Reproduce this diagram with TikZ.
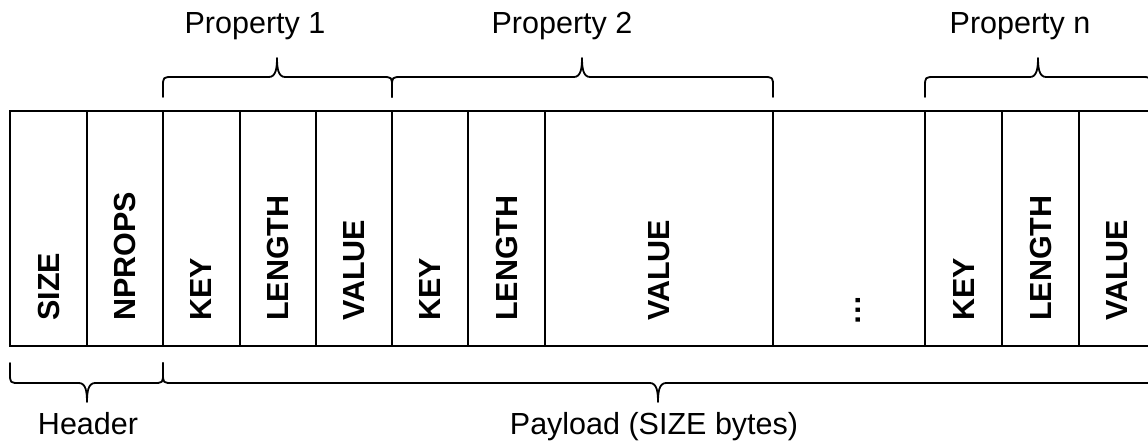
\documentclass[tikz,border=0pt]{standalone}
\usepackage{fontspec}
\setmainfont{Liberation Sans}

% curly brace: left x, right x, tip x, end y, bar y, tip y
\newcommand{\drawbrace}[6]{%
  \draw[bracestroke] (#1,#4) -- (#1,{(#4+#5)/2}) .. controls (#1,#5) .. (#1+10,#5)
    -- (#3-8,#5) .. controls (#3-1,#5) and (#3,{(#5+#6)/2}) .. (#3,#6)
    .. controls (#3,{(#5+#6)/2}) and (#3+1,#5) .. (#3+8,#5)
    -- (#2-10,#5) .. controls (#2,#5) .. (#2,{(#4+#5)/2}) -- (#2,#4);
}

\tikzset{
  cell/.style={draw, line width=2pt, inner sep=0pt, minimum height=235pt},
  field/.style={font=\bfseries\fontsize{30.5}{36}\selectfont, rotate=90,
                anchor=west, inner sep=0pt},
  caption/.style={font=\fontsize{30.5}{36}\selectfont, anchor=base, inner sep=0pt},
  bracestroke/.style={line width=1.8pt, line join=round, line cap=round}
}

\begin{document}
\begin{tikzpicture}[x=1pt, y=-1pt]
  \useasboundingbox (0,0) rectangle (1148,445);
  \clip (0,0) rectangle (1148,445);

  % record fields
  \node[cell, minimum width=77pt]  (size)   at (48.5,228.5)  {};
  \node[cell, minimum width=76pt]  (nprops) at (125,228.5)   {};
  \node[cell, minimum width=77pt]  (key1)   at (201.5,228.5) {};
  \node[cell, minimum width=76pt]  (len1)   at (278,228.5)   {};
  \node[cell, minimum width=76pt]  (val1)   at (354,228.5)   {};
  \node[cell, minimum width=76pt]  (key2)   at (430,228.5)   {};
  \node[cell, minimum width=77pt]  (len2)   at (506.5,228.5) {};
  \node[cell, minimum width=228pt] (val2)   at (659,228.5)   {};
  \node[cell, minimum width=152pt] (gap)    at (849,228.5)   {};
  \node[cell, minimum width=77pt]  (keyn)   at (963.5,228.5) {};
  \node[cell, minimum width=77pt]  (lenn)   at (1040.5,228.5){};
  \node[cell, minimum width=76pt]  (valn)   at (1117,228.5)  {};

  % field names, written bottom to top
  \node[field] (tsize)   at (48.5,321)  {SIZE};
  \node[field] (tnprops) at (125,321)   {NPROPS};
  \node[field] (tkey1)   at (201.5,321) {KEY};
  \node[field] (tlen1)   at (278,321)   {LENGTH};
  \node[field] (tval1)   at (354,321)   {VALUE};
  \node[field] (tkey2)   at (430,321)   {KEY};
  \node[field] (tlen2)   at (506.5,321) {LENGTH};
  \node[field] (tval2)   at (659,321)   {VALUE};
  \node[field, anchor=center] (tgap) at (858,310) {…};
  \node[field] (tkeyn)   at (963.5,321) {KEY};
  \node[field] (tlenn)   at (1040.5,321){LENGTH};
  \node[field] (tvaln)   at (1117,321)  {VALUE};

  % property groups above
  \drawbrace{163}{392}{277}{97}{77}{58}
  \drawbrace{392}{773}{582}{97}{77}{58}
  \drawbrace{925}{1151}{1038}{97}{77}{58}
  \node[caption] (prop1) at (255,33)  {Property 1};
  \node[caption] (prop2) at (562,33)  {Property 2};
  \node[caption] (propn) at (1020,33) {Property n};

  % header and payload below
  \drawbrace{10}{163}{87}{363}{383}{402}
  \drawbrace{163}{1153}{658}{363}{383}{402}
  \node[caption] (header)  at (88,434)  {Header};
  \node[caption] (payload) at (654,434) {Payload (SIZE bytes)};
\end{tikzpicture}
\end{document}
